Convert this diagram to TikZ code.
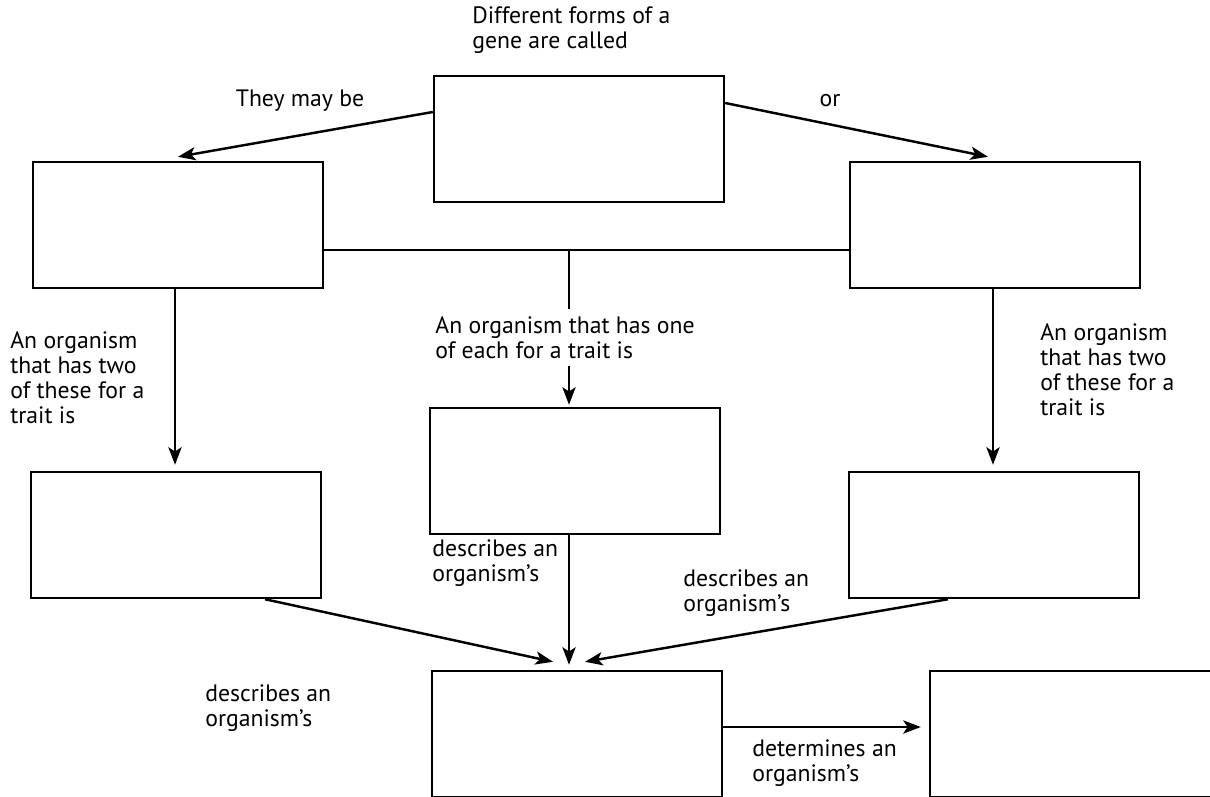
\documentclass[tikz,border=0pt]{standalone}
\usepackage{fontspec}
\setmainfont{PT Sans}
\usetikzlibrary{arrows.meta,positioning,calc}

\begin{document}
\begin{tikzpicture}[
        x=0.02cm, y=-0.02cm,
        box/.style={
          draw,
          line width=1.4pt,
          minimum width=5.8cm,
          minimum height=2.52cm,
          inner sep=0pt
        },
        arrow/.style={
          -{Stealth[length=10pt,width=7.5pt,inset=2.5pt]},
          line width=1.4pt
        },
        lbl/.style={
          align=left,
          inner sep=0pt,
          font=\fontsize{13.5}{14.2}\selectfont
        }
      ]

      \clip (0,0) rectangle (1210,797);
      \useasboundingbox (0,0) rectangle (1210,797);

      % boxes
      \node[box] (gene) at (579,139) {};
      \node[box] (domi) at (178,225) {};
      \node[box] (rece) at (995,225) {};
      \node[box] (hetero) at (575,471) {};
      \node[box] (homoL) at (176,535) {};
      \node[box] (homoR) at (994,535) {};
      \node[box] (geno) at (577,734) {};
      \node[box, minimum width=6.4cm] (pheno) at (1090,734) {};

      % labels
      \node[lbl, anchor=north west] (qlbl) at (472,6) {Different forms of a\\gene are called};
      \node[lbl] (maylbl) at (300,101) {They may be};
      \node[lbl] (orlbl) at (830,101) {or};
      \node[lbl, anchor=north west] (twolblL) at (10,331) {An organism\\that has two\\of these for a\\trait is};
      \node[lbl, anchor=north west] (twolblR) at (1040,323) {An organism\\that has two\\of these for a\\trait is};

      \coordinate (split) at (569,250);

      \draw[arrow] ($(gene.west)+(0,-27)$) -- ($(domi.north)+(0,-4)$);
      \draw[arrow] ($(gene.east)+(0,-36)$) -- ($(rece.north)+(-7,-4)$);
      \draw[line width=1.4pt] ($(domi.east)+(0,25)$) -- ($(rece.west)+(0,25)$);
      \draw[arrow] (split) -- ($(split |- hetero.north)+(0,-2)$);
      \node[lbl, fill=white, inner sep=4pt, anchor=north west] (onelbl) at (428,309) {An organism that has one\\of each for a trait is};

      \draw[arrow] ($(domi.south)+(-3,0)$) -- ($(homoL.north)+(-1,-6)$);
      \draw[arrow] ($(rece.south)+(-2,0)$) -- ($(homoR.north)+(-1,-6)$);

      \draw[arrow] (split |- hetero.south) -- ($(split |- geno.north)+(0,-5)$);
      \draw[arrow] ($(homoL.south)+(89,0)$) -- ($(geno.north)+(-24,-8)$);
      \draw[arrow] ($(homoR.south)+(-46,0)$) -- ($(geno.north)+(8,-8)$);
      \draw[arrow] ($(geno.east)+(0,-7)$) -- ($(pheno.west)+(-8,-7)$);

      \node[lbl, anchor=north west] (desclblM) at (432,539) {describes an\\organism's};
      \node[lbl, anchor=north west] (desclblL) at (205,684) {describes an\\organism's};
      \node[lbl, anchor=north west] (desclblR) at (683,569) {describes an\\organism's};
      \node[lbl, anchor=north west] (detlbl) at (752,739) {determines an\\organism's};

      \end{tikzpicture}
\end{document}
